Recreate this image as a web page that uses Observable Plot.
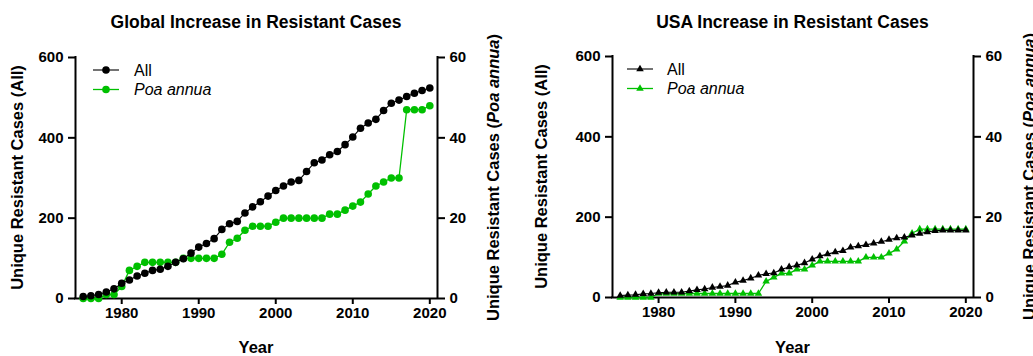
<!DOCTYPE html>
<html><head><meta charset="utf-8">
<script src="https://cdn.jsdelivr.net/npm/d3@7"></script>
<script src="https://cdn.jsdelivr.net/npm/@observablehq/plot@0.6"></script>
<style>
html,body{margin:0;padding:0;background:#fff;}
#wrap{position:relative;width:1033px;height:356px;overflow:hidden;background:#fff;}
#wrap svg{position:absolute;top:0;}
</style></head><body><div id="wrap"></div>
<script>
const years = [1975,1976,1977,1978,1979,1980,1981,1982,1983,1984,1985,1986,1987,1988,1989,1990,1991,1992,1993,1994,1995,1996,1997,1998,1999,2000,2001,2002,2003,2004,2005,2006,2007,2008,2009,2010,2011,2012,2013,2014,2015,2016,2017,2018,2019,2020];
const globalAll = [5,7,10,16,24,38,46,56,63,70,73,80,90,99,113,128,137,149,172,186,192,213,228,241,255,269,280,290,294,316,338,345,358,366,383,402,424,437,446,468,486,494,503,511,518,524];
const globalPoa = [0,0,0,1,1,3,7,8,9,9,9,9,9,10,10,10,10,10,11,14,15,17,18,18,18,19,20,20,20,20,20,20,21,21,22,23,24,26,28,29,30,30,47,47,47,48];
const usaAll = [5,6,7,9,10,12,13,13,13,16,19,21,25,27,30,38,42,48,55,59,61,70,76,80,86,95,103,108,113,116,125,128,131,135,139,144,148,150,155,159,163,166,167,167,167,167];
const usaPoa = [0,0,0,0,0,1,1,1,1,1,1,1,1,1,1,1,1,1,1,4,5,6,6,7,7,8,9,9,9,9,9,9,10,10,10,11,12,14,16,17,17,17,17,17,17,17];
const leftTicks = [0,200,400,600];
const rightTicks = [0,20,40,60];
const xTicks = [1980,1990,2000,2010,2020];
const xDomain = [1974,2021];
const yDomain = [0,600];
const titles = ["Global Increase in Resistant Cases","USA Increase in Resistant Cases"];
const seriesNames = ["All","Poa annua"];
const yLabelLeft = "Unique Resistant Cases (All)";
const yLabelRightPre = "Unique Resistant Cases (";
const yLabelRightIt = "Poa annua";
const yLabelRightPost = ")";
const xLabel = "Year";

const FONT = '"Liberation Sans", Arial, sans-serif';
const BLACK = "#000", GREEN = "#00c000";
const RATIO = 10;

function panel(o) {
  const rows = years.map((y, i) => ({year: y, all: o.all[i], poa: o.poa[i] * RATIO}));
  const svg = Plot.plot({
    width: o.width, height: 356,
    marginLeft: o.mL, marginRight: o.mR, marginTop: o.mT, marginBottom: o.mB,
    x: {domain: xDomain},
    y: {domain: yDomain},
    style: {fontFamily: FONT, fontSize: "15px", fontWeight: "bold", color: "#000", background: "transparent", overflow: "hidden"},
    marks: [
      Plot.ruleX(xDomain, {stroke: BLACK, strokeWidth: 2, strokeLinecap: "square"}),
      Plot.ruleY([0], {stroke: BLACK, strokeWidth: 2, strokeLinecap: "square"}),
      Plot.axisX({ticks: xTicks, tickFormat: d => String(d), tickSize: 6, tickPadding: 3, strokeWidth: 2, label: null}),
      Plot.axisY({anchor: "left", ticks: leftTicks, tickSize: 7, tickPadding: 5, strokeWidth: 2, label: null}),
      Plot.axisY({anchor: "right", ticks: rightTicks.map(v => v * RATIO), tickFormat: v => String(v / RATIO), tickSize: 7, tickPadding: 5, strokeWidth: 2, label: null}),
      Plot.line(rows, {x: "year", y: "poa", stroke: GREEN, strokeWidth: 1.3}),
      Plot.dot(rows, {x: "year", y: "poa", fill: GREEN, stroke: "none", r: o.r, symbol: o.symbol}),
      Plot.line(rows, {x: "year", y: "all", stroke: BLACK, strokeWidth: 1.1}),
      Plot.dot(rows, {x: "year", y: "all", fill: BLACK, stroke: "none", r: o.r, symbol: o.symbol})
    ]
  });
  svg.style.left = o.left + "px";
  const s = d3.select(svg);
  const fx0 = o.mL, fx1 = o.width - o.mR, fy0 = o.mT, fy1 = 356 - o.mB;
  const cx = (fx0 + fx1) / 2, cy = (fy0 + fy1) / 2;
  // title
  s.append("text").attr("x", cx).attr("y", 28).attr("text-anchor", "middle")
    .style("font", `bold 17.5px ${FONT}`).attr("fill", "#000").text(o.title);
  // x label
  s.append("text").attr("x", cx).attr("y", 353).attr("text-anchor", "middle")
    .style("font", `bold 16.5px ${FONT}`).attr("fill", "#000").text(xLabel);
  // left y label
  s.append("text").attr("transform", `translate(${fx0 - o.yLabDx},${cy}) rotate(-90)`)
    .attr("text-anchor", "middle").attr("dy", "0.35em")
    .style("font", `bold 16.5px ${FONT}`).attr("fill", "#000").text(yLabelLeft);
  // right y label
  const t = s.append("text").attr("transform", `translate(${fx1 + 56},${cy}) rotate(-90)`)
    .attr("text-anchor", "middle").attr("dy", "0.35em")
    .style("font", `bold 16.5px ${FONT}`).attr("fill", "#000");
  t.append("tspan").text(yLabelRightPre);
  t.append("tspan").style("font-style", "italic").text(yLabelRightIt);
  t.append("tspan").text(yLabelRightPost);
  // legend
  const symGen = d3.symbol().type(o.symbol === "triangle" ? d3.symbolTriangle : d3.symbolCircle).size(Math.PI * o.r * o.r);
  [BLACK, GREEN].forEach((c, i) => {
    const ly = fy0 + 13 + i * 19.5;
    const lx = fx0 + o.legDx;
    s.append("line").attr("x1", lx).attr("x2", lx + 26).attr("y1", ly).attr("y2", ly)
      .attr("stroke", c).attr("stroke-width", i ? 1.3 : 1.1);
    s.append("path").attr("d", symGen()).attr("transform", `translate(${lx + 13},${ly})`).attr("fill", c);
    s.append("text").attr("x", fx0 + o.legTx).attr("y", ly).attr("dy", "0.35em")
      .attr("text-anchor", "start")
      .style("font", `${i ? "italic " : ""}16px ${FONT}`).attr("fill", "#000").text(seriesNames[i]);
  });
  document.getElementById("wrap").appendChild(svg);
}

panel({left: 0, width: 516, mL: 75, mR: 79, mT: 57, mB: 58, all: globalAll, poa: globalPoa, symbol: "circle", r: 3.8, title: titles[0], yLabDx: 58, legDx: 18, legTx: 59});
panel({left: 516, width: 517, mL: 96, mR: 60, mT: 56, mB: 59, all: usaAll, poa: usaPoa, symbol: "triangle", r: 2.8, title: titles[1], yLabDx: 71, legDx: 15, legTx: 55});
</script>
</body></html>
